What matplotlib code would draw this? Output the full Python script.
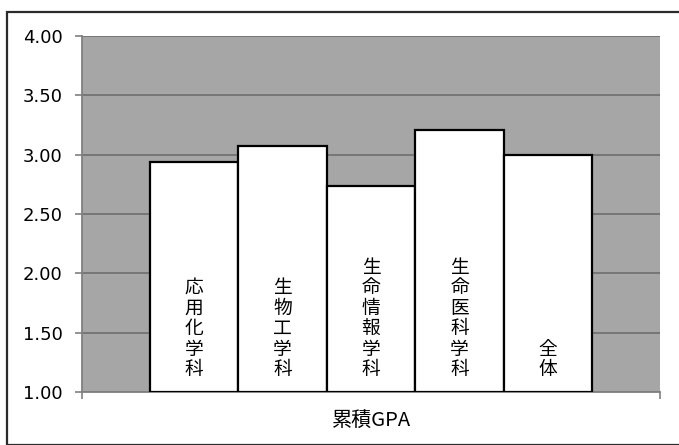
import matplotlib
matplotlib.use("Agg")
import matplotlib.pyplot as plt
from matplotlib.patches import Rectangle

plt.rcParams['font.family'] = ['DejaVu Sans', 'Noto Sans CJK JP']

# Data
departments = ["応用化学科", "生物工学科", "生命情報学科", "生命医科学科", "全体"]
gpa = [2.94, 3.07, 2.74, 3.21, 3.00]
category = "累積GPA"
yticks = [1.00, 1.50, 2.00, 2.50, 3.00, 3.50, 4.00]

W, H = 679, 445
fig = plt.figure(figsize=(W / 100, H / 100), dpi=100)
fig.patch.set_facecolor("white")

# Outer chart border
fig.add_artist(Rectangle((7 / W, 0), 1.0, 1 - 12 / H, transform=fig.transFigure,
                         fill=False, edgecolor="#2b2b2b", linewidth=1.6, clip_on=False))

ax = fig.add_axes([82 / W, 1 - 392 / H, (660 - 82) / W, (392 - 36) / H])
ax.set_facecolor("#a6a6a6")

n = len(departments)
gap = 0.117
bw = (1 - 2 * gap) / n
base = 1.0
for i, (name, v) in enumerate(zip(departments, gpa)):
    x0 = gap + i * bw
    ax.bar(x0, v - base, bottom=base, width=bw, align="edge",
           facecolor="white", edgecolor="black", linewidth=1.6, zorder=3)
    ax.text(x0 + bw / 2, base + 0.1, "\n".join(name), ha="center", va="bottom",
            fontsize=13.5, family=["Noto Sans CJK JP"], linespacing=0.97, zorder=4)

ax.set_xlim(0, 1)
ax.set_ylim(1.0, 4.0)
ax.set_yticks(yticks)
ax.set_yticklabels([f"{t:.2f}" for t in yticks], fontsize=13)
ax.yaxis.grid(True, color="#6e6e6e", linewidth=1.2, zorder=1)
ax.set_axisbelow(True)

ax.set_xticks([0, 1])
ax.set_xticklabels(["", ""])
ax.tick_params(axis="x", length=5, width=1.2, color="#808080", direction="out")
ax.tick_params(axis="y", length=5, width=1.2, color="#808080", pad=9)

for s in ["top", "right"]:
    ax.spines[s].set_visible(False)
ax.spines["left"].set_color("#808080")
ax.spines["left"].set_linewidth(1.3)
ax.spines["bottom"].set_color("#808080")
ax.spines["bottom"].set_linewidth(1.3)

fig.text(371.5 / W, 1 - 421 / H, category, ha="center", va="center",
         fontsize=14.5, family=["Noto Sans CJK JP"])

fig.savefig("out.png", dpi=100)
